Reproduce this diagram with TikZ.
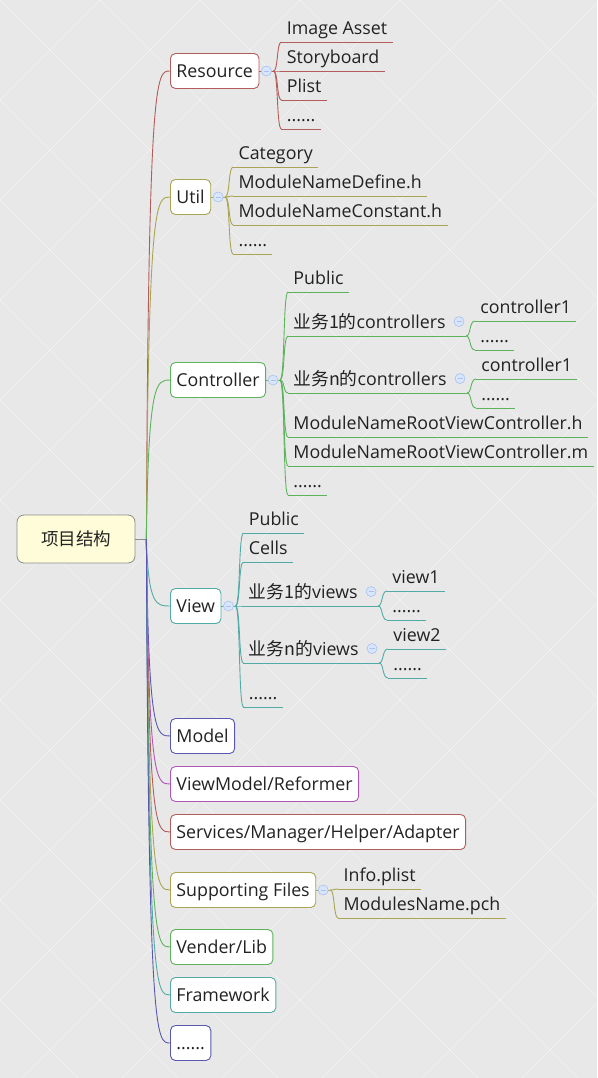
\documentclass[tikz,border=0pt]{standalone}
\usepackage{fontspec}
\setmainfont{Open Sans}
\newfontfamily\cjk{Noto Sans CJK SC}
\usetikzlibrary{calc}

\definecolor{bgc}{HTML}{E8E8E8}
\definecolor{txt}{HTML}{222222}
\definecolor{redc}{HTML}{B35C5C}
\definecolor{olivec}{HTML}{A9A552}
\definecolor{greenc}{HTML}{5DB35D}
\definecolor{tealc}{HTML}{52AAA6}
\definecolor{bluec}{HTML}{5858B0}
\definecolor{purplec}{HTML}{B056B8}
\definecolor{togf}{HTML}{D8E5FB}
\definecolor{togb}{HTML}{A9C1F0}

\newcommand\moredots{......}

\tikzset{
  root/.style={draw=black!45, fill=yellow!15, rounded corners=7pt, line width=0.8pt,
    minimum width=118pt, minimum height=48pt, font=\fontsize{17.5}{20}\selectfont, text=txt},
  topic/.style={draw=#1, fill=white, rounded corners=5pt, line width=0.9pt, anchor=west,
    inner xsep=6pt, minimum height=35pt, text height=16pt, text depth=3pt,
    font=\fontsize{17.8}{20}\selectfont, text=txt},
  leaf/.style={anchor=south west, inner xsep=5pt, inner ysep=3pt, text height=12pt,
    text depth=4pt, font=\fontsize{17.8}{20}\selectfont, text=txt},
  toggle/.style={circle, draw=togb, fill=togf, line width=0.6pt, minimum size=10pt, inner sep=0pt,
    path picture={\draw[togb, line width=0.8pt] ([xshift=-2.5pt]path picture bounding box.center)
      -- ([xshift=2.5pt]path picture bounding box.center);}},
  branch/.style={to path={.. controls ($(\tikztostart |- \tikztotarget)+(2,0)$)
      and ($(\tikztostart |- \tikztotarget)+(10,0)$) .. (\tikztotarget)}},
  twig/.style={to path={.. controls ($(\tikztostart)+(5,0)$)
      and ($(\tikztostart |- \tikztotarget)+(3,0)$) .. (\tikztotarget)}}
}

\begin{document}
\begin{tikzpicture}[x=1pt, y=-1pt, line width=0.9pt]
\useasboundingbox (0,0) rectangle (597,1078);

% background
\fill[bgc] (0,0) rectangle (597,1078);
\begin{scope}
\clip (0,0) rectangle (597,1078);
\foreach \c in {0,100,...,1700} {
	\draw[white, opacity=0.5, line width=0.6pt] (\c,0) -- (\c-1100,1100);
}
\foreach \c in {-1100,-1000,...,600} {
	\draw[white, opacity=0.5, line width=0.6pt] (\c,0) -- (\c+1100,1100);
}
\end{scope}

% root
\node[root] (prj) at (76,539) {\cjk 项目结构};
\coordinate (prjj) at ([xshift=11pt]prj.east);
\draw[black!45] (prj.east) -- (prjj);

% first level
\node[topic=redc] (res) at (170,71) {Resource};
\node[topic=olivec] (utl) at (170,197) {Util};
\node[topic=greenc] (ctl) at (170,380) {Controller};
\node[topic=tealc] (vew) at (170,606) {View};
\node[topic=bluec] (mdl) at (170,736) {Model};
\node[topic=purplec] (vmd) at (170,784) {ViewModel/Reformer};
\node[topic=redc] (svc) at (170,832) {Services/Manager/Helper/Adapter};
\node[topic=olivec] (sup) at (170,890) {Supporting Files};
\node[topic=greenc] (vnd) at (170,947) {Vender/Lib};
\node[topic=tealc] (fwk) at (170,995) {Framework};
\node[topic=bluec] (etc) at (170,1043) {\moredots};

\foreach \n/\c in {res/redc, utl/olivec, ctl/greenc, vew/tealc, mdl/bluec, vmd/purplec,
	svc/redc, sup/olivec, vnd/greenc, fwk/tealc, etc/bluec} {
	\draw[\c] (prjj) to[branch] (\n.west);
}

% Resource
\coordinate (resj) at ([xshift=14pt]res.east);
\draw[redc] (res.east) -- (resj);
\foreach \t/\y [count=\i] in {Image Asset/42, Storyboard/71, Plist/100, \moredots/129} {
	\node[leaf] (res\i) at ($(resj |- 0,\y)+(8,0)$) {\t};
	\draw[redc] (res\i.south west) -- (res\i.south east);
	\draw[redc] (resj) to[twig] (res\i.south west);
}
\node[toggle] at ([xshift=7pt]res.east) {};

% Util
\coordinate (utlj) at ([xshift=14pt]utl.east);
\draw[olivec] (utl.east) -- (utlj);
\foreach \t/\y [count=\i] in {Category/167, ModuleNameDefine.h/196, ModuleNameConstant.h/225, \moredots/254} {
	\node[leaf] (utl\i) at ($(utlj |- 0,\y)+(8,0)$) {\t};
	\draw[olivec] (utl\i.south west) -- (utl\i.south east);
	\draw[olivec] (utlj) to[twig] (utl\i.south west);
}
\node[toggle] at ([xshift=7pt]utl.east) {};

% Controller
\coordinate (ctlj) at ([xshift=14pt]ctl.east);
\draw[greenc] (ctl.east) -- (ctlj);
\foreach \t/\y [count=\i] in {Public/292, {\cjk 业务1的}controllers/336, {\cjk 业务n的}controllers/393,
	ModuleNameRootViewController.h/437, ModuleNameRootViewController.m/466, \moredots/495} {
	\node[leaf] (ctl\i) at ($(ctlj |- 0,\y)+(8,0)$) {\t};
	\draw[greenc] (ctl\i.south west) -- (ctl\i.south east);
	\draw[greenc] (ctlj) to[twig] (ctl\i.south west);
}
\node[toggle] at ([xshift=7pt]ctl.east) {};

\coordinate (ctlAj) at ([xshift=15pt]ctl2.south east);
\draw[greenc] (ctl2.south east) -- (ctlAj);
\foreach \t/\y [count=\i] in {controller1/321, \moredots/350} {
	\node[leaf] (ctlA\i) at ($(ctlAj |- 0,\y)+(9,0)$) {\t};
	\draw[greenc] (ctlA\i.south west) -- (ctlA\i.south east);
	\draw[greenc] (ctlAj) to[twig] (ctlA\i.south west);
}
\node[toggle] at ([xshift=8pt,yshift=3pt]ctl2.east) {};

\coordinate (ctlBj) at ([xshift=15pt]ctl3.south east);
\draw[greenc] (ctl3.south east) -- (ctlBj);
\foreach \t/\y [count=\i] in {controller1/379, \moredots/408} {
	\node[leaf] (ctlB\i) at ($(ctlBj |- 0,\y)+(9,0)$) {\t};
	\draw[greenc] (ctlB\i.south west) -- (ctlB\i.south east);
	\draw[greenc] (ctlBj) to[twig] (ctlB\i.south west);
}
\node[toggle] at ([xshift=8pt,yshift=3pt]ctl3.east) {};

% View
\coordinate (vewj) at ([xshift=14pt]vew.east);
\draw[tealc] (vew.east) -- (vewj);
\foreach \t/\y [count=\i] in {Public/533, Cells/562, {\cjk 业务1的}views/606, {\cjk 业务n的}views/663, \moredots/707} {
	\node[leaf] (vew\i) at ($(vewj |- 0,\y)+(8,0)$) {\t};
	\draw[tealc] (vew\i.south west) -- (vew\i.south east);
	\draw[tealc] (vewj) to[twig] (vew\i.south west);
}
\node[toggle] at ([xshift=7pt]vew.east) {};

\coordinate (vewAj) at ([xshift=15pt]vew3.south east);
\draw[tealc] (vew3.south east) -- (vewAj);
\foreach \t/\y [count=\i] in {view1/591, \moredots/620} {
	\node[leaf] (vewA\i) at ($(vewAj |- 0,\y)+(9,0)$) {\t};
	\draw[tealc] (vewA\i.south west) -- (vewA\i.south east);
	\draw[tealc] (vewAj) to[twig] (vewA\i.south west);
}
\node[toggle] at ([xshift=8pt,yshift=3pt]vew3.east) {};

\coordinate (vewBj) at ([xshift=15pt]vew4.south east);
\draw[tealc] (vew4.south east) -- (vewBj);
\foreach \t/\y [count=\i] in {view2/649, \moredots/678} {
	\node[leaf] (vewB\i) at ($(vewBj |- 0,\y)+(9,0)$) {\t};
	\draw[tealc] (vewB\i.south west) -- (vewB\i.south east);
	\draw[tealc] (vewBj) to[twig] (vewB\i.south west);
}
\node[toggle] at ([xshift=8pt,yshift=3pt]vew4.east) {};

% Supporting Files
\coordinate (supj) at ([xshift=14pt]sup.east);
\draw[olivec] (sup.east) -- (supj);
\foreach \t/\y [count=\i] in {Info.plist/889, ModulesName.pch/918} {
	\node[leaf] (sup\i) at ($(supj |- 0,\y)+(8,0)$) {\t};
	\draw[olivec] (sup\i.south west) -- (sup\i.south east);
	\draw[olivec] (supj) to[twig] (sup\i.south west);
}
\node[toggle] at ([xshift=7pt]sup.east) {};

\end{tikzpicture}
\end{document}
